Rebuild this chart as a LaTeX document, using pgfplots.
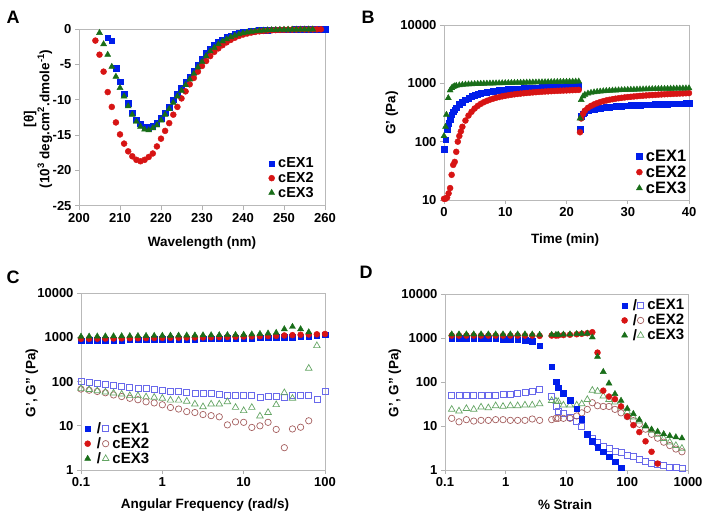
\documentclass[border=0pt]{standalone}
\usepackage{pgfplots}
\pgfplotsset{compat=1.18}
\usepackage{fontspec}
\setmainfont{Liberation Sans}
\definecolor{cb}{RGB}{0,30,235}
\definecolor{cr}{RGB}{215,20,20}
\definecolor{cg}{RGB}{25,110,25}
\definecolor{cbo}{RGB}{105,105,235}
\definecolor{cro}{RGB}{165,95,95}
\definecolor{cgo}{RGB}{100,165,100}
\newcommand{\tf}{\fontsize{13}{15}\selectfont\bfseries}
\newcommand{\lf}{\fontsize{15}{17}\selectfont\bfseries}
\newcommand{\sq}{{\char"0027}}
\newcommand{\dq}{{\char"0022}}
\pgfplotsset{
  base/.style={scale only axis, clip=false,
    axis line style={gray!55, line width=0.8pt},
    tick style={gray!60, line width=0.8pt},
    tick align=outside, major tick length=4pt,
    xtick pos=bottom, ytick pos=left,
    xminorticks=false, yminorticks=false,
    tick label style={font=\tf},
    legend style={draw=none, fill=none, font=\lf, inner sep=1pt, row sep=0pt, column sep=2pt,
      nodes={inner sep=1.5pt}},
    legend cell align=left,
    legend image code/.code={\draw[mark repeat=2,mark phase=2,##1] plot coordinates {(0pt,0pt)(5pt,0pt)(10pt,0pt)};},
  },
  sb/.style={only marks, mark=square*, mark size=2.8pt, color=cb, mark options={fill=cb, draw=cb}},
  sr/.style={only marks, mark=*, mark size=3pt, color=cr, mark options={fill=cr, draw=cr}},
  sg/.style={only marks, mark=triangle*, mark size=3.5pt, color=cg, mark options={fill=cg, draw=cg}},
  ob/.style={only marks, mark=square, mark size=3pt, color=cbo, mark options={draw=cbo, line width=0.7pt}},
  orr/.style={only marks, mark=o, mark size=3.2pt, color=cro, mark options={draw=cro, line width=0.7pt}},
  og/.style={only marks, mark=triangle, mark size=3.8pt, color=cgo, mark options={draw=cgo, line width=0.7pt}},
}
\begin{document}
\begin{tikzpicture}[x=1pt,y=1pt]
\useasboundingbox (0,0) rectangle (711,522);
% ---------------- A ----------------
\begin{axis}[base, at={(79pt,316.3pt)}, anchor=south west, width=246pt, height=176.4pt,
  xmin=200, xmax=260, ymin=-25, ymax=0,
  xtick={200,210,220,230,240,250,260}, xticklabels={200,210,220,230,240,250,260},
  ytick={-25,-20,-15,-10,-5,0}, yticklabels={-25,-20,-15,-10,-5,0},
  legend style={at={(0.965,0.025)}, anchor=south east, font=\fontsize{14.5}{17}\selectfont\bfseries}]
\addplot[sb] coordinates {(207,-1.2)(208,-1.6)(209,-5.5)(210,-7.4)(211,-9.1)(212,-10.5)(213,-11.8)(214,-12.8)(215,-13.4)(216,-13.8)(217,-13.9)(218,-13.7)(219,-13.3)(220,-12.6)(221,-11.8)(222,-11.0)(223,-10.0)(224,-9.1)(225,-8.3)(226,-7.5)(227,-6.7)(228,-5.9)(229,-5.0)(230,-4.2)(231,-3.4)(232,-2.8)(233,-2.2)(234,-1.8)(235,-1.45)(236,-1.15)(237,-0.9)(238,-0.72)(239,-0.57)(240,-0.45)(241,-0.35)(242,-0.27)(243,-0.21)(244,-0.16)(245,-0.13)(246,-0.1)(247,-0.08)(248,-0.06)(249,-0.05)(250,-0.04)(251,-0.03)(252,-0.03)(253,-0.02)(254,-0.02)(255,-0.02)(256,-0.01)(257,-0.01)(258,-0.01)(259,0)(260,0)};
\addlegendentry{cEX1}
\addplot[sr] coordinates {(204,-1.6)(205,-3.6)(206,-6.0)(207,-8.9)(208,-11.0)(209,-13.2)(210,-14.9)(211,-16.2)(212,-17.3)(213,-18.0)(214,-18.5)(215,-18.7)(216,-18.5)(217,-18.1)(218,-17.6)(219,-16.6)(220,-15.5)(221,-14.4)(222,-13.3)(223,-12.1)(224,-11.0)(225,-9.8)(226,-8.8)(227,-7.8)(228,-6.9)(229,-6.0)(230,-5.2)(231,-4.5)(232,-3.8)(233,-3.2)(234,-2.7)(235,-2.25)(236,-1.85)(237,-1.5)(238,-1.2)(239,-0.95)(240,-0.75)(241,-0.6)(242,-0.47)(243,-0.37)(244,-0.29)(245,-0.23)(246,-0.18)(247,-0.14)(248,-0.11)(249,-0.09)(250,-0.07)(251,-0.05)(252,-0.04)(253,-0.03)(254,0.0)(255,-0.02)(256,-0.02)(257,-0.01)(258,-0.01)(259,0)};
\addlegendentry{cEX2}
\addplot[sg] coordinates {(205,-0.5)(206,-2.1)(207,-3.6)(208,-5.3)(209,-6.7)(210,-8.3)(211,-9.5)(212,-10.9)(213,-12.1)(214,-13.1)(215,-13.8)(216,-14.2)(217,-14.3)(218,-14.0)(219,-13.6)(220,-12.9)(221,-12.1)(222,-11.3)(223,-10.4)(224,-9.5)(225,-8.7)(226,-7.9)(227,-7.1)(228,-6.3)(229,-5.4)(230,-4.6)(231,-3.8)(232,-3.1)(233,-2.6)(234,-2.1)(235,-1.7)(236,-1.4)(237,-1.1)(238,-0.88)(239,-0.7)(240,-0.55)(241,-0.43)(242,-0.34)(243,-0.27)(244,-0.21)(245,-0.17)(246,-0.13)(247,-0.1)(248,-0.08)(249,-0.06)(250,-0.05)(251,-0.04)(252,-0.03)(253,-0.03)(254,-0.02)(255,-0.02)(256,-0.01)(257,-0.01)};
\addlegendentry{cEX3}
\end{axis}
% ---------------- B ----------------
\begin{axis}[base, at={(444pt,322pt)}, anchor=south west, width=245pt, height=175pt,
  xmin=0, xmax=40, ymode=log, ymin=10, ymax=10000,
  xtick={0,10,20,30,40}, xticklabels={0,10,20,30,40},
  ytick={10,100,1000,10000}, yticklabels={10,100,1000,10000},
  legend style={at={(1.0,0.015)}, anchor=south east, font=\fontsize{16.5}{18}\selectfont\bfseries}]
\addplot[sb] coordinates {(0,75)(0.25,108)(0.5,160)(0.75,205)(1,245)(1.25,290)(1.5,325)(1.75,355)(2,385)(2.5,435)(3,480)(3.5,520)(4,560)(4.5,595)(5,625)(5.5,650)(6,672)(6.5,690)(7,705)(7.5,720)(8,733)(8.5,745)(9,756)(9.5,766)(10,775)(10.5,784)(11,792)(11.5,800)(12,807)(12.5,814)(13,820)(13.5,826)(14,832)(14.5,838)(15,843)(15.5,848)(16,853)(16.5,858)(17,862)(17.5,866)(18,870)(18.5,874)(19,878)(19.5,882)(20,886)(20.5,890)(21,894)(21.5,897)(22,900)
(22.2,165)(22.4,270)(22.7,300)(23,320)(23.5,340)(24,352)(24.5,362)(25,370)(25.5,377)(26,383)(26.5,388)(27,393)(27.5,397)(28,401)(28.5,405)(29,408)(29.5,411)(30,414)(30.5,417)(31,420)(31.5,422)(32,425)(32.5,427)(33,429)(33.5,431)(34,433)(34.5,435)(35,437)(35.5,439)(36,441)(36.5,442)(37,444)(37.5,446)(38,447)(38.5,449)(39,450)(39.5,452)(40,453)};
\addlegendentry{cEX1}
\addplot[sr] coordinates {(0,10.5)(0.25,10.5)(0.5,11)(0.75,13)(1,16)(1.25,27)(1.5,40)(1.75,45)(2,67)(2.25,100)(2.5,125)(2.75,150)(3,180)(3.5,230)(4,280)(4.5,325)(5,370)(5.5,410)(6,445)(6.5,475)(7,500)(7.5,525)(8,545)(8.5,565)(9,582)(9.5,598)(10,612)(10.5,625)(11,637)(11.5,648)(12,658)(12.5,667)(13,676)(13.5,684)(14,692)(14.5,699)(15,706)(15.5,712)(16,718)(16.5,724)(17,729)(17.5,734)(18,739)(18.5,744)(19,748)(19.5,752)(20,756)(20.5,760)(21,764)(21.5,768)(22,772)
(22.2,145)(22.4,250)(22.7,300)(23,340)(23.5,380)(24,410)(24.5,435)(25,458)(25.5,477)(26,494)(26.5,509)(27,522)(27.5,534)(28,545)(28.5,555)(29,564)(29.5,573)(30,581)(30.5,588)(31,595)(31.5,602)(32,608)(32.5,614)(33,620)(33.5,625)(34,630)(34.5,635)(35,640)(35.5,645)(36,649)(36.5,653)(37,657)(37.5,661)(38,665)(38.5,669)(39,672)(39.5,676)(40,680)};
\addlegendentry{cEX2}
\addplot[sg] coordinates {(0,125)(0.25,180)(0.4,290)(0.7,560)(1,760)(1.25,830)(1.5,870)(1.75,895)(2,910)(2.5,930)(3,945)(3.5,955)(4,963)(4.5,970)(5,976)(5.5,981)(6,986)(6.5,990)(7,994)(7.5,998)(8,1001)(8.5,1004)(9,1007)(9.5,1010)(10,1013)(10.5,1016)(11,1019)(11.5,1022)(12,1025)(12.5,1028)(13,1031)(13.5,1034)(14,1036)(14.5,1039)(15,1042)(15.5,1044)(16,1047)(16.5,1050)(17,1052)(17.5,1055)(18,1057)(18.5,1060)(19,1062)(19.5,1065)(20,1067)(20.5,1070)(21,1072)(21.5,1075)(22,1078)
(22.2,250)(22.4,520)(22.7,600)(23,640)(23.5,670)(24,690)(24.5,705)(25,717)(25.5,727)(26,735)(26.5,742)(27,748)(27.5,754)(28,759)(28.5,764)(29,768)(29.5,772)(30,776)(30.5,779)(31,782)(31.5,785)(32,788)(32.5,791)(33,794)(33.5,796)(34,799)(34.5,801)(35,804)(35.5,806)(36,808)(36.5,810)(37,812)(37.5,814)(38,816)(38.5,818)(39,820)(39.5,822)(40,824)};
\addlegendentry{cEX3}
\end{axis}
% ---------------- C ----------------
\begin{axis}[base, at={(81pt,52pt)}, anchor=south west, width=244pt, height=176.7pt,
  xmode=log, ymode=log, xmin=0.1, xmax=100, ymin=1, ymax=10000,
  xtick={0.1,1,10,100}, xticklabels={0.1,1,10,100},
  ytick={1,10,100,1000,10000}, yticklabels={1,10,100,1000,10000},
  legend style={at={(0.01,0.015)}, anchor=south west}]
\addplot[ob, forget plot] coordinates {(0.1,100)(0.1259,95)(0.1585,90)(0.1995,86)(0.2512,82)(0.3162,78)(0.3981,75)(0.5012,72)(0.631,69)(0.7943,66)(1,63)(1.259,61)(1.585,59)(1.995,57)(2.512,55)(3.162,54)(3.981,53)(5.012,52)(6.31,50)(7.943,49)(10,49)(12.59,48)(15.85,45)(19.95,47)(25.12,47)(31.62,45)(39.81,48)(50.12,48)(63.1,48)(79.43,40)(100,60)};
\addplot[orr, forget plot] coordinates {(0.1,68)(0.1259,64)(0.1585,60)(0.1995,56)(0.2512,50)(0.3162,46)(0.3981,42)(0.5012,39)(0.631,35)(0.7943,33)(1,30)(1.259,26)(1.585,24)(1.995,21)(2.512,20)(3.162,18)(3.981,17)(5.012,16)(6.31,10.5)(7.943,12.3)(10,12)(12.59,9.2)(15.85,10)(19.95,12)(25.12,8.3)(31.62,3.2)(39.81,8.5)(50.12,9.3)(63.1,13)};
\addplot[og, forget plot] coordinates {(0.1,70)(0.1259,66)(0.1585,62)(0.1995,58)(0.2512,55)(0.3162,52)(0.3981,48)(0.5012,48)(0.631,45)(0.7943,44)(1,42)(1.259,38)(1.585,38)(1.995,36)(2.512,31)(3.162,27)(3.981,31)(5.012,31)(6.31,35)(7.943,26)(10,22)(12.59,26)(15.85,16.6)(19.95,20)(25.12,30)(31.62,56)(39.81,42)(63.1,200)(79.43,650)};
\addplot[sb, forget plot] coordinates {(0.1,850)(0.1259,860)(0.1585,865)(0.1995,870)(0.2512,875)(0.3162,880)(0.3981,885)(0.5012,890)(0.631,895)(0.7943,900)(1,905)(1.259,910)(1.585,915)(1.995,920)(2.512,925)(3.162,930)(3.981,935)(5.012,940)(6.31,950)(7.943,955)(10,960)(12.59,970)(15.85,980)(19.95,990)(25.12,1000)(31.62,1010)(39.81,1020)(50.12,1040)(63.1,1060)(79.43,1090)(100,1150)};
\addplot[sr, forget plot] coordinates {(0.1,930)(0.1259,935)(0.1585,940)(0.1995,945)(0.2512,950)(0.3162,955)(0.3981,960)(0.5012,965)(0.631,970)(0.7943,975)(1,980)(1.259,985)(1.585,990)(1.995,995)(2.512,1000)(3.162,1005)(3.981,1010)(5.012,1020)(6.31,1030)(7.943,1040)(10,1050)(12.59,1060)(15.85,1070)(19.95,1080)(25.12,1090)(31.62,1110)(39.81,1130)(50.12,1150)(63.1,1170)(79.43,1180)(100,1200)};
\addplot[sg, forget plot] coordinates {(0.1,1050)(0.1259,1055)(0.1585,1060)(0.1995,1065)(0.2512,1070)(0.3162,1075)(0.3981,1080)(0.5012,1085)(0.631,1090)(0.7943,1095)(1,1100)(1.259,1105)(1.585,1110)(1.995,1115)(2.512,1120)(3.162,1125)(3.981,1130)(5.012,1135)(6.31,1140)(7.943,1150)(10,1160)(12.59,1180)(15.85,1210)(19.95,1240)(25.12,1280)(31.62,1550)(39.81,1750)(50.12,1550)(63.1,1320)};
\addlegendimage{legend image code/.code={
  \draw[cb, fill=cb] plot[mark=square*, mark size=2.8pt] coordinates {(2pt,0pt)};
  \node[font=\lf, inner sep=0pt, text=black] at (11pt,0pt) {/};
  \draw[cbo, line width=0.7pt] plot[mark=square, mark size=3pt] coordinates {(20pt,0pt)};}}
\addlegendentry{cEX1}
\addlegendimage{legend image code/.code={
  \draw[cr, fill=cr] plot[mark=*, mark size=3pt] coordinates {(2pt,0pt)};
  \node[font=\lf, inner sep=0pt, text=black] at (11pt,0pt) {/};
  \draw[cro, line width=0.7pt] plot[mark=o, mark size=3.2pt] coordinates {(20pt,0pt)};}}
\addlegendentry{cEX2}
\addlegendimage{legend image code/.code={
  \draw[cg, fill=cg] plot[mark=triangle*, mark size=3.5pt] coordinates {(2pt,0pt)};
  \node[font=\lf, inner sep=0pt, text=black] at (11pt,0pt) {/};
  \draw[cgo, line width=0.7pt] plot[mark=triangle, mark size=3.8pt] coordinates {(20pt,0pt)};}}
\addlegendentry{cEX3}
\end{axis}
% ---------------- D ----------------
\begin{axis}[base, at={(445pt,52pt)}, anchor=south west, width=243pt, height=175.7pt,
  xmode=log, ymode=log, xmin=0.1, xmax=1000, ymin=1, ymax=10000,
  xtick={0.1,1,10,100,1000}, xticklabels={0.1,1,10,100,1000},
  ytick={1,10,100,1000,10000}, yticklabels={1,10,100,1000,10000},
  legend style={at={(0.995,0.985)}, anchor=north east}]
\addplot[ob, forget plot] coordinates {(0.129,49)(0.170,49)(0.225,50)(0.297,50)(0.392,50)(0.517,51)(0.682,51)(0.901,52)(1.19,54)(1.57,56)(2.07,59)(2.73,63)(3.61,70)
(5.7,48)(6.7,28)(7.3,22)(8.9,19)(11.4,16)(14.7,13)(17.8,10)(22,6.5)(26.6,5.2)(32.4,4.3)(40.3,3.5)(50,3.1)(62.7,2.7)(79,2.5)(100,2.2)(126,2.0)(158,1.75)(200,1.6)(251,1.45)(316,1.35)(398,1.25)(501,1.17)(631,1.12)(794,1.1)};
\addplot[orr, forget plot] coordinates {(0.129,15)(0.170,12.5)(0.225,14)(0.297,13)(0.392,13.5)(0.517,13.5)(0.682,14)(0.901,14)(1.19,13.5)(1.57,13.5)(2.07,13.5)(2.73,14.5)(3.61,13.5)
(5.7,14)(6.7,15)(7.3,15)(8.9,15)(11.4,15)(14.7,17)(17.8,20)(22,24)(26.6,34)(32.4,29)(40.3,28)(50,28)(62.7,24)(79,20)(100,16.4)(126,13.3)(158,11)(200,8.5)(251,6.5)(316,5.3)(398,4.3)(501,3.6)(631,3.0)(794,2.6)};
\addplot[og, forget plot] coordinates {(0.129,24)(0.170,22)(0.225,25)(0.297,24)(0.392,27)(0.517,26)(0.682,29)(0.901,28)(1.19,29)(1.57,29)(2.07,30)(2.73,30)(3.61,32)
(5.7,38)(6.7,37)(7.3,36)(8.9,30)(11.4,30)(14.7,30)(17.8,32)(22,40)(26.6,65)(32.4,62)(40.3,48)(50,40)(62.7,35)(79,27)(100,21)(126,16)(158,13)(200,10)(251,8)(316,6.5)(398,5.2)(501,4.3)(631,3.6)(794,3.1)};
\addplot[sb, forget plot] coordinates {(0.129,1000)(0.170,1000)(0.225,1000)(0.297,995)(0.392,990)(0.517,985)(0.682,975)(0.901,965)(1.19,950)(1.57,930)(2.07,900)(2.73,850)(3.61,670)
(5.7,225)(6.7,103)(7.3,75)(8.9,56)(11.4,39)(14.7,25)(17.8,14.3)(22,6.5)(26.6,4.5)(32.4,3.3)(40.3,2.6)(50,2.0)(62.7,1.55)(79,1.12)};
\addplot[sr, forget plot] coordinates {(0.129,1150)(0.170,1150)(0.225,1150)(0.297,1150)(0.392,1150)(0.517,1150)(0.682,1150)(0.901,1150)(1.19,1150)(1.57,1150)(2.07,1150)(2.73,1150)(3.61,1130)
(5.7,1150)(6.7,1150)(7.3,1160)(8.9,1180)(11.4,1200)(14.7,1230)(17.8,1260)(22,1300)(26.6,1370)(32.4,470)(40.3,64)(50,47)(62.7,41)(79,28)(100,16.5)(126,10.5)(158,7.3)(200,4.5)(251,2.6)(316,1.4)};
\addplot[sg, forget plot] coordinates {(0.129,1230)(0.170,1230)(0.225,1230)(0.297,1230)(0.392,1230)(0.517,1230)(0.682,1230)(0.901,1230)(1.19,1230)(1.57,1230)(2.07,1230)(2.73,1220)(3.61,1200)
(5.7,1200)(6.7,1200)(7.3,1210)(8.9,1220)(11.4,1230)(14.7,1250)(17.8,1270)(22,1280)(26.6,1050)(32.4,380)(40.3,172)(50,94)(62.7,54)(79,38)(100,25)(126,19)(158,14)(200,10)(251,8.4)(316,7.5)(398,6.6)(501,6.0)(631,5.6)(794,5.3)};
\addlegendimage{legend image code/.code={
  \draw[cb, fill=cb] plot[mark=square*, mark size=2.8pt] coordinates {(2pt,0pt)};
  \node[font=\lf, inner sep=0pt, text=black] at (10pt,0pt) {/};
  \draw[cbo, line width=0.7pt] plot[mark=square, mark size=3pt] coordinates {(18pt,0pt)};}}
\addlegendentry{cEX1}
\addlegendimage{legend image code/.code={
  \draw[cr, fill=cr] plot[mark=*, mark size=3pt] coordinates {(2pt,0pt)};
  \node[font=\lf, inner sep=0pt, text=black] at (10pt,0pt) {/};
  \draw[cro, line width=0.7pt] plot[mark=o, mark size=3.2pt] coordinates {(18pt,0pt)};}}
\addlegendentry{cEX2}
\addlegendimage{legend image code/.code={
  \draw[cg, fill=cg] plot[mark=triangle*, mark size=3.5pt] coordinates {(2pt,0pt)};
  \node[font=\lf, inner sep=0pt, text=black] at (10pt,0pt) {/};
  \draw[cgo, line width=0.7pt] plot[mark=triangle, mark size=3.8pt] coordinates {(18pt,0pt)};}}
\addlegendentry{cEX3}
\end{axis}
% ---------------- labels ----------------
\begin{scope}[every node/.style={font=\fontsize{13.5}{15}\selectfont\bfseries}]
\node at (202,279) {Wavelength (nm)};
\node[rotate=90, align=center, font=\fontsize{13.5}{13.5}\selectfont\bfseries] at (38,403) {[θ]\\(10\textsuperscript{3} deg.cm\textsuperscript{2}.dmole\textsuperscript{-1})};
\node at (565,282) {Time (min)};
\node[rotate=90] at (392,409) {G\sq{} (Pa)};
\node at (205,17) {Angular Frequency (rad/s)};
\node[rotate=90] at (32,139) {G\sq, G\dq{} (Pa)};
\node at (565,17) {\% Strain};
\node[rotate=90] at (395,139) {G\sq, G\dq{} (Pa)};
\end{scope}
\begin{scope}[every node/.style={font=\fontsize{18}{20}\selectfont\bfseries}]
\node at (13,505) {A};
\node at (368,505) {B};
\node at (13,245) {C};
\node at (366,250) {D};
\end{scope}
\end{tikzpicture}
\end{document}
